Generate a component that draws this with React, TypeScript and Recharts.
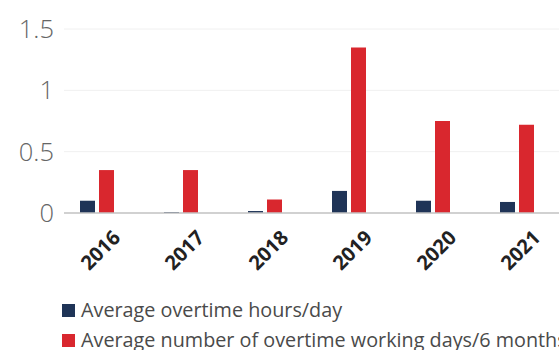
import React from 'react';
import { BarChart, Bar, XAxis, YAxis, CartesianGrid } from 'recharts';

const years = ['2016', '2017', '2018', '2019', '2020', '2021'];
const overtimeHours = [0.1, 0.008, 0.016, 0.18, 0.1, 0.09];
const overtimeDays = [0.35, 0.35, 0.11, 1.35, 0.75, 0.72];
const yTicks = [0, 0.5, 1, 1.5];

const seriesNames = ['Average overtime hours/day', 'Average number of overtime working days/6 months'];
const NAVY = '#1f3457';
const RED = '#d9272e';

const data = years.map((y, i) => ({
    year: y,
    hours: overtimeHours[i],
    days: overtimeDays[i],
    spacer: null,
}));

const FONT = '"Open Sans", "Noto Sans", sans-serif';

const YearTick = (props: any) => {
    const { x, y, payload } = props;
    const ax = x + 15.5;
    const ay = y + 26;
    return (
        <text
            x={ax}
            y={ay}
            textAnchor="end"
            transform={`rotate(-45, ${ax}, ${ay})`}
            fill="#222"
            fontSize={20}
            fontWeight="bold"
            fontFamily={FONT}
        >
            {payload.value}
        </text>
    );
};

const App = () => {
    return (
        <div style={{ position: 'absolute', left: 0, top: 0, width: 559, height: 350, overflow: 'hidden', background: '#fff' }}>
            <BarChart
                width={568}
                height={350}
                data={data}
                margin={{ top: 29, right: 0, left: 0, bottom: 86 }}
                barSize={15}
                barGap={4}
            >
                <CartesianGrid stroke="#f0f0f0" vertical={false} />
                <XAxis
                    dataKey="year"
                    tickLine={false}
                    tickSize={0}
                    tickMargin={0}
                    height={51}
                    axisLine={{ stroke: '#c4c4c4', strokeWidth: 1.5 }}
                    tick={<YearTick />}
                    interval={0}
                />
                <YAxis
                    domain={[0, 1.5]}
                    ticks={yTicks}
                    width={64}
                    axisLine={false}
                    tickLine={false}
                    tickMargin={4}
                    tick={{ fill: '#666', fontSize: 25.5, fontWeight: 300, fontFamily: FONT }}
                />
                <Bar dataKey="hours" name={seriesNames[0]} fill={NAVY} isAnimationActive={false} />
                <Bar dataKey="days" name={seriesNames[1]} fill={RED} isAnimationActive={false} />
                <Bar dataKey="spacer" legendType="none" fill="transparent" isAnimationActive={false} />
            </BarChart>

            {/* legend, two rows under the axis */}
            <div
                style={{
                    position: 'absolute',
                    left: 62,
                    top: 295,
                    fontFamily: FONT,
                    fontSize: 19.8,
                    color: '#4a4a4a',
                    lineHeight: '30px',
                }}
            >
                {seriesNames.map((name, i) => (
                    <div key={name} style={{ display: 'flex', alignItems: 'center', whiteSpace: 'nowrap' }}>
                        <span
                            style={{
                                display: 'inline-block',
                                width: 13,
                                height: 13,
                                background: i === 0 ? NAVY : RED,
                                marginRight: 6,
                            }}
                        />
                        {name}
                    </div>
                ))}
            </div>
        </div>
    );
};

export default App;
